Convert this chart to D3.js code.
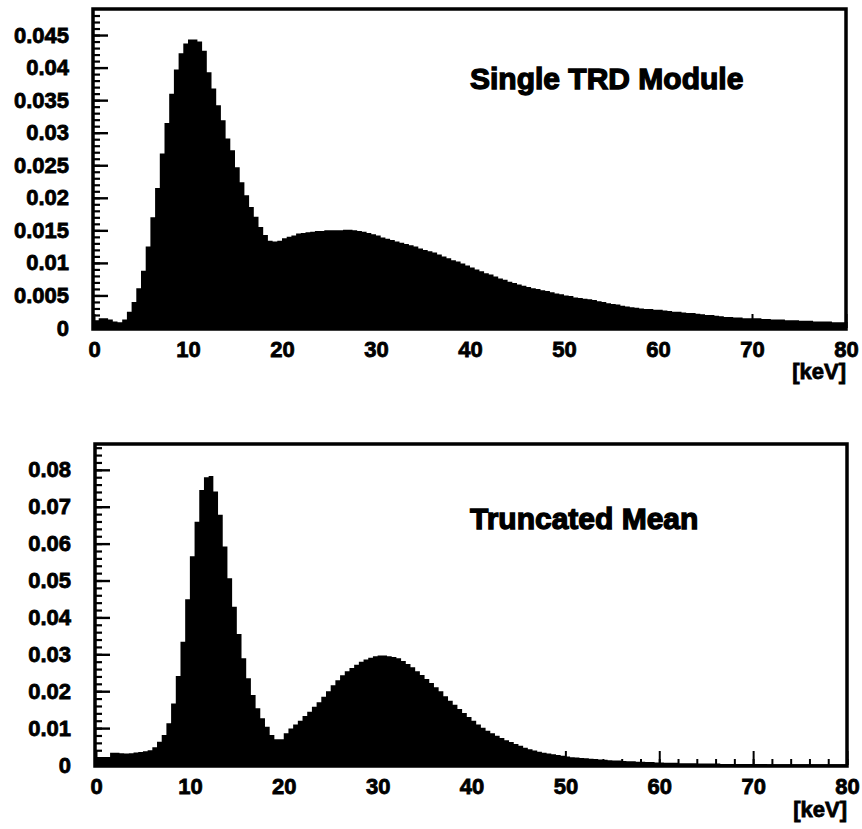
<!DOCTYPE html>
<html>
<head>
<meta charset="utf-8">
<script src="https://cdn.jsdelivr.net/npm/d3@7.9.0/dist/d3.min.js"></script>
<style>
  html, body { margin: 0; padding: 0; background: #fff; }
  text { font-family: "Liberation Sans", Arial, Helvetica, sans-serif; font-weight: bold; fill: #000; }
</style>
</head>
<body>
<svg id="chart" width="862" height="829"></svg>
<script>
// ─────────── DATA (bin contents, 0.5 keV bins from 0 to 80 keV, units of 1e-3) ───────────
const BIN_WIDTH = 0.5;
const UNIT = 1e-3;

const singleModule = [
  1.2, 1.5, 1.5, 1.3, 1.0, 0.9, 1.3, 2.5, 4.0, 6.1,          // 0 - 5
  8.8, 12.5, 17.0, 21.5, 26.8, 31.5, 36.0, 39.7, 42.2, 43.7, // 5 - 10
  44.3, 44.3, 44.0, 42.6, 39.3, 36.8, 34.2, 31.9, 29.1, 27.3, // 10 - 15
  24.7, 22.4, 20.4, 18.6, 17.1, 15.5, 14.3, 13.4, 13.3, 13.4, // 15 - 20
  13.8, 14.0, 14.2, 14.5, 14.6, 14.7, 14.8, 14.9, 14.9, 15.0, // 20 - 25
  15.0, 15.0, 15.0, 15.1, 15.1, 15.0, 14.9, 14.8, 14.6, 14.4, // 25 - 30
  14.2, 13.9, 13.7, 13.5, 13.3, 13.1, 12.9, 12.7, 12.5, 12.2, // 30 - 35
  12.0, 11.8, 11.6, 11.3, 11.0, 10.7, 10.4, 10.2, 9.9, 9.6,   // 35 - 40
  9.3, 9.0, 8.7, 8.4, 8.2, 7.9, 7.6, 7.4, 7.1, 6.9,           // 40 - 45
  6.7, 6.5, 6.3, 6.1, 6.0, 5.8, 5.7, 5.5, 5.3, 5.2,           // 45 - 50
  5.0, 4.9, 4.7, 4.6, 4.5, 4.4, 4.3, 4.1, 4.0, 3.8,           // 50 - 55
  3.7, 3.6, 3.4, 3.3, 3.2, 3.1, 3.0, 2.9, 2.9, 2.8,           // 55 - 60
  2.8, 2.7, 2.6, 2.5, 2.5, 2.4, 2.3, 2.3, 2.2, 2.1,           // 60 - 65
  2.0, 2.0, 1.9, 1.8, 1.7, 1.7, 1.6, 1.6, 1.5, 1.5,           // 65 - 70
  1.5, 1.5, 1.4, 1.4, 1.3, 1.3, 1.3, 1.2, 1.2, 1.2,           // 70 - 75
  1.1, 1.1, 1.1, 1.0, 1.0, 1.0, 1.0, 0.9, 0.9, 0.9            // 75 - 80
];

const truncatedMean = [
  2.2, 2.2, 2.2, 3.3, 3.3, 3.2, 3.1, 3.2, 3.4, 3.5,           // 0 - 5
  3.7, 4.0, 4.8, 6.3, 8.1, 11.3, 16.7, 24.1, 33.4, 44.9,      // 5 - 10
  56.6, 65.9, 74.5, 78.0, 78.3, 74.1, 67.8, 59.2, 50.6, 42.9, // 10 - 15
  35.5, 28.9, 23.5, 19.0, 15.4, 12.7, 10.4, 8.1, 7.0, 7.0,    // 15 - 20
  8.6, 9.9, 11.0, 12.0, 13.3, 14.4, 15.8, 17.0, 18.5, 20.0,   // 20 - 25
  21.6, 23.0, 24.3, 25.4, 26.3, 27.2, 28.0, 28.6, 29.1, 29.5, // 25 - 30
  29.7, 29.7, 29.5, 29.3, 28.9, 28.2, 27.4, 26.5, 25.4, 24.4, // 30 - 35
  23.3, 22.2, 21.1, 20.0, 18.6, 17.4, 16.3, 15.2, 14.1, 13.0, // 35 - 40
  12.0, 11.0, 10.1, 9.3, 8.6, 7.9, 7.3, 6.7, 6.2, 5.7,        // 40 - 45
  5.2, 4.7, 4.3, 3.9, 3.6, 3.3, 3.1, 2.9, 2.7, 2.5,           // 45 - 50
  2.3, 2.1, 2.0, 1.9, 1.8, 1.7, 1.6, 1.5, 1.4, 1.3,           // 50 - 55
  1.2, 1.2, 1.1, 1.0, 1.0, 0.9, 0.9, 0.8, 0.8, 0.7,           // 55 - 60
  0.7, 0.6, 0.6, 0.6, 0.5, 0.5, 0.5, 0.5, 0.4, 0.4,           // 60 - 65
  0.4, 0.4, 0.4, 0.3, 0.3, 0.3, 0.3, 0.3, 0.3, 0.3,           // 65 - 70
  0.3, 0.3, 0.3, 0.2, 0.2, 0.2, 0.2, 0.2, 0.2, 0.2,           // 70 - 75
  0.2, 0.2, 0.2, 0.2, 0.2, 0.2, 0.2, 0.2, 0.2, 0.2            // 75 - 80
];

// ─────────── TICKS / LABELS ───────────
const xTicks = [0, 10, 20, 30, 40, 50, 60, 70, 80];
const yTicksTop = [0, 0.005, 0.01, 0.015, 0.02, 0.025, 0.03, 0.035, 0.04, 0.045];
const yTicksBottom = [0, 0.01, 0.02, 0.03, 0.04, 0.05, 0.06, 0.07, 0.08];
const xUnit = "[keV]";

const panels = [
  {
    title: "Single TRD Module", values: singleModule,
    yMax: 0.049, yTicks: yTicksTop, yMinorStep: 0.001,
    left: 93, right: 846, top: 9, bottom: 328,
    titleX: 470, titleY: 89, unitY: 379
  },
  {
    title: "Truncated Mean", values: truncatedMean,
    yMax: 0.087, yTicks: yTicksBottom, yMinorStep: 0.002,
    left: 95, right: 847, top: 444, bottom: 765,
    titleX: 470, titleY: 529, unitY: 817
  }
];

const svg = d3.select("#chart");
const fmt = d3.format("~g");

function drawPanel(p) {
  const x = d3.scaleLinear().domain([0, 80]).range([p.left + 1, p.right]);
  const y = d3.scaleLinear().domain([0, p.yMax]).range([p.bottom, p.top]);
  const g = svg.append("g");

  // histogram as filled step area
  const pts = p.values.map((v, i) => ({ k: i * BIN_WIDTH, v: v * UNIT }));
  pts.push({ k: 80, v: p.values[p.values.length - 1] * UNIT });
  const area = d3.area()
    .curve(d3.curveStepAfter)
    .x(d => x(d.k))
    .y0(y(0))
    .y1(d => y(d.v));
  g.append("path").datum(pts).attr("d", area).attr("fill", "#000");

  // y axis — ticks pointing inward
  const yMinor = d3.range(0, p.yMax, p.yMinorStep).map(d => +d.toFixed(4));
  g.append("g").attr("transform", `translate(${p.left},0)`)
    .call(d3.axisLeft(y).tickValues(yMinor).tickSize(-7).tickFormat(""))
    .call(a => a.select(".domain").remove())
    .call(a => a.selectAll("line").attr("stroke", "#000").attr("stroke-width", 2.2));
  g.append("g").attr("transform", `translate(${p.left},0)`)
    .call(d3.axisLeft(y).tickValues(p.yTicks).tickSize(-15).tickPadding(24).tickFormat(fmt))
    .call(a => a.select(".domain").remove())
    .call(a => a.selectAll("line").attr("stroke", "#000").attr("stroke-width", 2.4))
    .call(a => a.selectAll("text").attr("font-size", 22).attr("stroke", "#000").attr("stroke-width", 0.8)
      .attr("font-family", null));

  // x axis — ticks pointing inward
  g.append("g").attr("transform", `translate(0,${p.bottom})`)
    .call(d3.axisBottom(x).tickValues(d3.range(0, 81, 2)).tickSize(-6).tickFormat(""))
    .call(a => a.select(".domain").remove())
    .call(a => a.selectAll("line").attr("stroke", "#000").attr("stroke-width", 2));
  g.append("g").attr("transform", `translate(0,${p.bottom})`)
    .call(d3.axisBottom(x).tickValues(xTicks).tickSize(-14).tickPadding(13).tickFormat(d3.format("d")))
    .call(a => a.select(".domain").remove())
    .call(a => a.selectAll("line").attr("stroke", "#000").attr("stroke-width", 2))
    .call(a => a.selectAll("text").attr("font-size", 22).attr("stroke", "#000").attr("stroke-width", 0.8)
      .attr("font-family", null));

  // frame
  g.append("rect")
    .attr("x", p.left).attr("y", p.top)
    .attr("width", p.right - p.left).attr("height", p.bottom - p.top + 1)
    .attr("fill", "none").attr("stroke", "#000").attr("stroke-width", 3.5);

  // title & unit
  g.append("text").attr("x", p.titleX).attr("y", p.titleY)
    .attr("font-size", 30).attr("stroke", "#000").attr("stroke-width", 1.3)
    .text(p.title);
  g.append("text").attr("x", p.right).attr("y", p.unitY)
    .attr("text-anchor", "end").attr("font-size", 22)
    .attr("stroke", "#000").attr("stroke-width", 0.8)
    .text(xUnit);
}

panels.forEach(drawPanel);
</script>
</body>
</html>
